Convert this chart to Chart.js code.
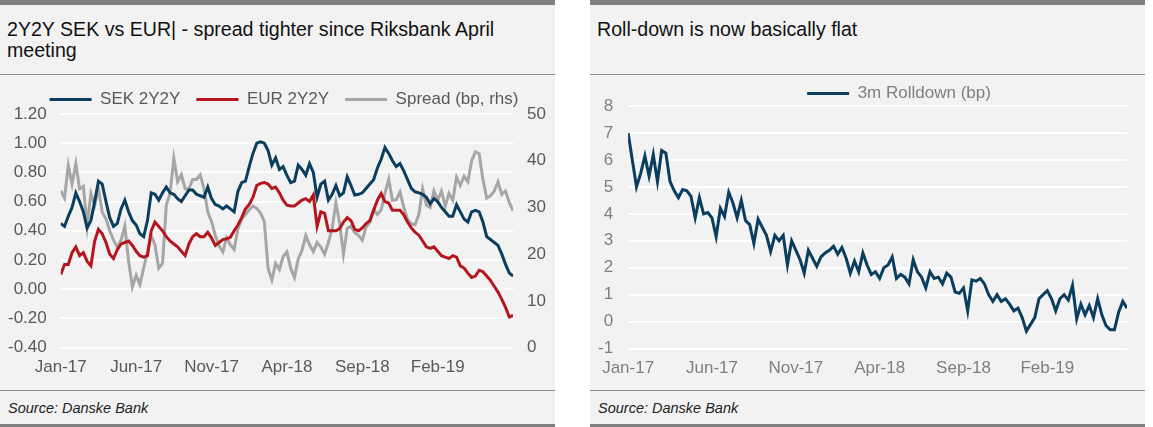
<!DOCTYPE html>
<html>
<head>
<meta charset="utf-8">
<script src="https://cdn.jsdelivr.net/npm/chart.js@4/dist/chart.umd.min.js"></script>
<style>
  html, body { margin: 0; padding: 0; background: #fff; width: 1153px; height: 427px; overflow: hidden; }
  .panel { position: absolute; top: 0; height: 427px; background: #f2f2f2; box-sizing: border-box;
           border-top: 5px solid #808080; border-bottom: 3px solid #808080; overflow: hidden; }
  .title { position: absolute; left: 7px; top: 14px; width: 520px; font: 19.6px/21px "Liberation Sans", Arial, sans-serif; color: #111; }
  .rule { position: absolute; left: 0; right: 0; height: 1px; background: #8c8c8c; }
  .source { position: absolute; left: 8px; top: 395px; font: italic 14.5px/16px "Liberation Sans", Arial, sans-serif; color: #222; }
  .box { position: absolute; }
</style>
</head>
<body>
<div class="panel" style="left:0;width:555px">
  <div class="title">2Y2Y SEK vs EUR| - spread tighter since Riksbank April meeting</div>
  <div class="rule" style="top:69px"></div>
  <div class="rule" style="top:385px"></div>
  <div class="source">Source: Danske Bank</div>
  <div class="box" style="left:-14px;top:66px;width:588px;height:317px"><canvas id="spreadChart"></canvas></div>
</div>
<div class="panel" style="left:590px;width:555px">
  <div class="title">Roll-down is now basically flat</div>
  <div class="rule" style="top:69px"></div>
  <div class="rule" style="top:385px"></div>
  <div class="source">Source: Danske Bank</div>
  <div class="box" style="left:-15px;top:58px;width:570px;height:326px"><canvas id="rollChart"></canvas></div>
</div>
<script>
// x tick labels, one every 5 months starting Jan-17
const xTickLabels = ["Jan-17", "Jun-17", "Nov-17", "Apr-18", "Sep-18", "Feb-19"];

// left chart: quarter-month samples from Jan-17 (one row = two months)
const sek2y2y = [
  0.45, 0.43, 0.50, 0.56, 0.66, 0.60, 0.53, 0.42,
  0.47, 0.60, 0.74, 0.72, 0.60, 0.49, 0.43, 0.45,
  0.55, 0.61, 0.53, 0.47, 0.44, 0.38, 0.36, 0.47,
  0.66, 0.65, 0.61, 0.66, 0.70, 0.66, 0.65, 0.62,
  0.60, 0.64, 0.68, 0.68, 0.65, 0.64, 0.63, 0.70,
  0.62, 0.58, 0.57, 0.55, 0.57, 0.55, 0.53, 0.67,
  0.73, 0.74, 0.84, 0.93, 1.00, 1.01, 1.00, 0.95,
  0.85, 0.90, 0.82, 0.84, 0.78, 0.73, 0.74, 0.85,
  0.82, 0.78, 0.86, 0.80, 0.63, 0.72, 0.74, 0.61,
  0.65, 0.71, 0.64, 0.66, 0.77, 0.71, 0.645, 0.65,
  0.66, 0.69, 0.72, 0.75, 0.83, 0.89, 0.97, 0.93,
  0.88, 0.84, 0.86, 0.81, 0.75, 0.69, 0.667, 0.66,
  0.65, 0.63, 0.585, 0.62, 0.60, 0.56, 0.53, 0.50,
  0.50, 0.58, 0.53, 0.48, 0.46, 0.53, 0.54, 0.53,
  0.46, 0.36, 0.34, 0.32, 0.30, 0.24, 0.17, 0.11,
  0.09];
const eur2y2y = [
  0.10, 0.17, 0.17, 0.25, 0.29, 0.23, 0.25, 0.19,
  0.16, 0.33, 0.41, 0.38, 0.32, 0.24, 0.21, 0.27,
  0.31, 0.32, 0.33, 0.30, 0.26, 0.23, 0.22, 0.23,
  0.40, 0.46, 0.43, 0.40, 0.36, 0.33, 0.31, 0.29,
  0.26, 0.23, 0.31, 0.36, 0.38, 0.36, 0.36, 0.39,
  0.35, 0.30, 0.32, 0.34, 0.345, 0.355, 0.40, 0.44,
  0.49, 0.55, 0.58, 0.63, 0.71, 0.725, 0.73, 0.72,
  0.69, 0.70, 0.66, 0.61, 0.575, 0.57, 0.57, 0.59,
  0.61, 0.62, 0.60, 0.645, 0.43, 0.53, 0.52, 0.40,
  0.40, 0.40, 0.415, 0.46, 0.49, 0.47, 0.41, 0.40,
  0.42, 0.45, 0.47, 0.54, 0.61, 0.655, 0.60, 0.59,
  0.54, 0.54, 0.54, 0.51, 0.46, 0.42, 0.39, 0.37,
  0.33, 0.29, 0.28, 0.29, 0.26, 0.23, 0.22, 0.21,
  0.23, 0.22, 0.16, 0.145, 0.11, 0.08, 0.09, 0.13,
  0.12, 0.09, 0.06, 0.02, -0.02, -0.07, -0.125, -0.19,
  -0.18];
const spreadBp = [
  33.6, 32, 39, 35, 39.4, 34, 34.5, 26,
  33, 30.5, 34, 29, 27.5, 25, 23, 21.5,
  23, 26, 18.5, 13, 15.5, 13.5, 17, 20.5,
  24, 22, 17, 18, 30.5, 33, 40.5, 35.5,
  37, 34, 34, 36, 36, 37, 34, 29,
  27, 24, 21.8, 20.5, 23.5, 22, 21, 25.5,
  27.5, 28.5, 29.5, 30.3, 29.8, 28.8, 27, 17,
  14.5, 18, 16.7, 19.5, 20.5, 17, 15, 19,
  20.8, 24, 22, 20.5, 22.5, 21.5, 20, 22.5,
  25.5, 31, 26.5, 20, 25.5, 26, 24.6, 24,
  23, 25.8, 26.8, 29.5, 28.5, 29.5, 33, 36,
  31.5, 31.6, 33.3, 30, 27.5, 26.5, 26.3, 28.5,
  34, 30.5, 30, 33.5, 31.5, 33.5, 30.3, 33,
  31.5, 36.5, 34.7, 36.7, 35.5, 40, 41.9, 41.5,
  36, 32, 32.5, 33.5, 35.5, 32.8, 33.5, 31,
  29.3];

// right chart: quarter-month samples from Jan-17
const rolldown3m = [7.0, 6.0, 5.0, 5.5, 6.15, 5.4, 6.2, 5.2, 6.35, 6.25, 5.2, 4.85, 4.6, 4.9, 4.85, 4.65,
  3.85, 4.6, 4.0, 4.05, 3.85, 3.15, 4.2, 3.9, 4.8, 4.4, 3.85, 4.5, 3.75, 3.6, 2.9, 3.8,
  3.5, 3.2, 2.6, 3.2, 3.0, 3.2, 2.1, 3.0, 2.65, 2.3, 1.8, 2.65, 2.35, 2.05, 2.4, 2.55,
  2.65, 2.8, 2.5, 2.75, 2.35, 1.8, 2.25, 1.85, 2.55, 2.1, 1.75, 1.85, 1.6, 2.0, 2.1, 2.4,
  1.6, 1.75, 1.65, 1.4, 2.3, 1.85, 1.65, 1.25, 1.85, 1.6, 1.65, 1.4, 1.8, 1.65, 1.1, 1.05,
  1.25, 0.4, 1.55, 1.5, 1.6, 1.4, 1.0, 0.75, 1.0, 0.75, 0.85, 0.65, 0.4, 0.5, 0.15, -0.35,
  -0.1, 0.15, 0.85, 1.0, 1.15, 0.85, 0.4, 0.85, 1.0, 0.8, 1.35, 0.1, 0.65, 0.25, 0.6, 0.15,
  0.85, 0.25, -0.15, -0.3, -0.3, 0.35, 0.75, 0.5];

const toPoints = (arr, step) => arr.map((v, i) => ({ x: i * step, y: v }));

Chart.defaults.font.family = '"Liberation Sans", Arial, sans-serif';
Chart.defaults.animation = false;

// moves the legend box after layout so the plot area keeps its place
const legendNudge = {
  id: "legendNudge",
  afterLayout(chart, args, opts) {
    const lg = chart.legend;
    if (!lg) return;
    lg.left += opts.dx || 0; lg.right += opts.dx || 0;
    lg.top += opts.dy || 0; lg.bottom += opts.dy || 0;
  }
};

function legendLabels(color) {
  return {
    boxWidth: 42, boxHeight: 3, padding: 16, color,
    font: { size: 17 },
    generateLabels: chart => Chart.defaults.plugins.legend.labels.generateLabels(chart)
      .map(l => ({ ...l, fillStyle: l.strokeStyle, lineWidth: 0 }))
  };
}

function xAxis(max, color) {
  return {
    type: "linear", min: 0, max,
    grid: { display: false, drawTicks: false }, border: { display: false },
    ticks: {
      stepSize: 5, autoSkip: false, maxRotation: 0, padding: 10, color,
      font: { size: 17 },
      callback: v => xTickLabels[v / 5]
    }
  };
}

const line = (label, data, color, axis) => ({
  label, data, yAxisID: axis, borderColor: color, backgroundColor: color,
  borderWidth: 3, pointRadius: 0, tension: 0
});

new Chart(document.getElementById("spreadChart"), {
  type: "line",
  data: {
    datasets: [
      line("SEK 2Y2Y", toPoints(sek2y2y, 0.25), "#0b3d5e", "y"),
      line("EUR 2Y2Y", toPoints(eur2y2y, 0.25), "#b5161e", "y"),
      line("Spread (bp, rhs)", toPoints(spreadBp, 0.25), "#a6a6a6", "y1")
    ]
  },
  options: {
    responsive: true, maintainAspectRatio: false,
    layout: { padding: { left: 8, right: 14 } },
    plugins: {
      legend: { labels: legendLabels("#595959") },
      tooltip: { enabled: false },
      legendNudge: { dx: 7, dy: 4 }
    },
    scales: {
      x: xAxis(30, "#595959"),
      y: {
        min: -0.4, max: 1.2,
        grid: { color: "#ffffff", lineWidth: 2, drawTicks: false }, border: { display: false },
        ticks: { stepSize: 0.2, padding: 14, color: "#595959", font: { size: 17 },
          callback: v => (Math.abs(v) < 1e-9 ? 0 : v).toFixed(2) }
      },
      y1: {
        position: "right", min: 0, max: 50,
        grid: { display: false, drawTicks: false }, border: { display: false },
        ticks: { stepSize: 10, padding: 14, color: "#595959", font: { size: 17 } }
      }
    }
  },
  plugins: [legendNudge]
});

new Chart(document.getElementById("rollChart"), {
  type: "line",
  data: {
    datasets: [
      line("3m Rolldown (bp)", toPoints(rolldown3m, 0.25), "#0b3d5e", "y")
    ]
  },
  options: {
    responsive: true, maintainAspectRatio: false,
    layout: { padding: { left: 8, right: 18 } },
    plugins: {
      legend: { labels: legendLabels("#7f7f7f") },
      tooltip: { enabled: false },
      legendNudge: { dx: 44, dy: 6 }
    },
    scales: {
      x: xAxis(29.75, "#7f7f7f"),
      y: {
        min: -1, max: 8,
        grid: { color: "#ffffff", lineWidth: 2, drawTicks: false }, border: { display: false },
        ticks: { stepSize: 1, padding: 15, color: "#7f7f7f", font: { size: 17 } }
      }
    }
  },
  plugins: [legendNudge]
});
</script>
</body>
</html>
